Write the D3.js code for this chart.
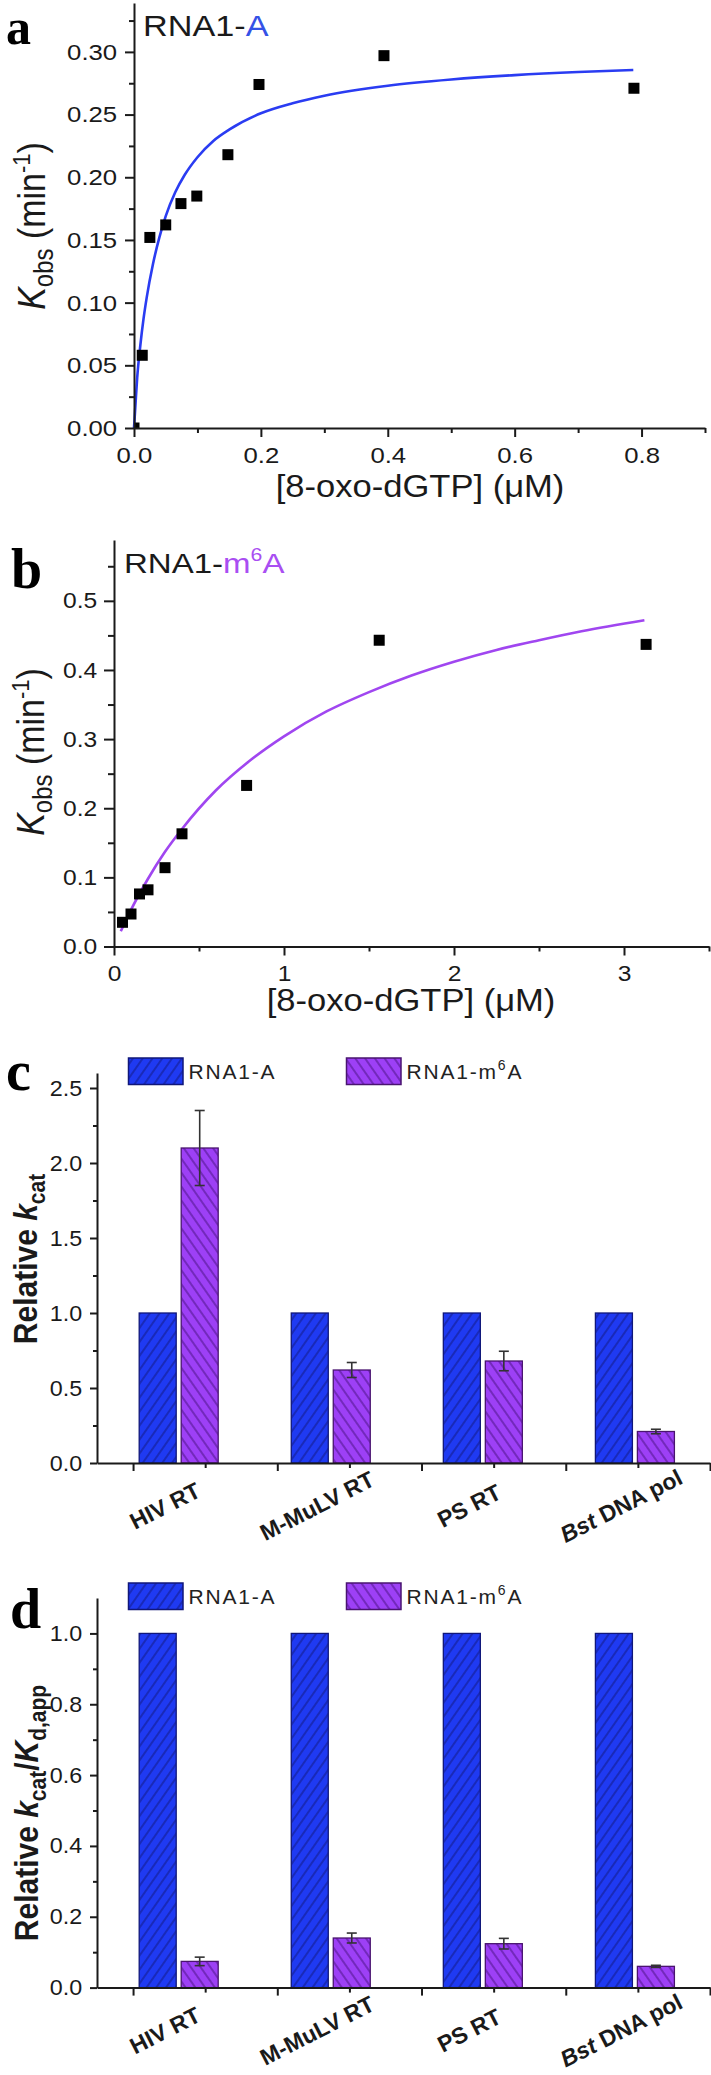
<!DOCTYPE html>
<html>
<head>
<meta charset="utf-8">
<script src="https://cdn.jsdelivr.net/npm/d3@7/dist/d3.min.js"></script>
<style>
html,body{margin:0;padding:0;background:#fff;}
svg{display:block;}
</style>
</head>
<body>
<div id="chart"></div>
<script>
// ---------------- data ----------------
// panel a : RNA1-A
const aConc = [0, 0.013, 0.025, 0.05, 0.074, 0.099, 0.148, 0.197, 0.394, 0.788];
const aKobs = [0, 0.058, 0.152, 0.162, 0.179, 0.185, 0.218, 0.274, 0.297, 0.271];
const aFitConc = [0, 0.002, 0.005, 0.01, 0.015, 0.02, 0.03, 0.04, 0.05, 0.065, 0.08, 0.1, 0.125, 0.15, 0.2, 0.25, 0.3, 0.4, 0.5, 0.6, 0.7, 0.787];
const aFitKobs = [0, 0.016, 0.040, 0.066, 0.087, 0.104, 0.131, 0.152, 0.169, 0.188, 0.202, 0.216, 0.229, 0.238, 0.251, 0.259, 0.265, 0.273, 0.278, 0.2815, 0.284, 0.2856];
const aXTicks = [0, 0.2, 0.4, 0.6, 0.8];
const aXMinor = [0.1, 0.3, 0.5, 0.7, 0.9];
const aYTicks = [0, 0.05, 0.10, 0.15, 0.20, 0.25, 0.30];
const aYMinor = [0.025, 0.075, 0.125, 0.175, 0.225, 0.275, 0.325];

// panel b : RNA1-m6A
const bConc = [0.05, 0.1, 0.15, 0.2, 0.3, 0.4, 0.78, 1.56, 3.13];
const bKobs = [0.035, 0.047, 0.076, 0.082, 0.114, 0.163, 0.233, 0.443, 0.437];
const bFitConc = [0.04, 0.1, 0.2, 0.3, 0.4, 0.6, 0.8, 1.0, 1.25, 1.5, 1.75, 2.0, 2.25, 2.5, 2.75, 3.12];
const bFitKobs = [0.022, 0.053, 0.098, 0.137, 0.170, 0.226, 0.269, 0.304, 0.340, 0.368, 0.392, 0.412, 0.429, 0.443, 0.456, 0.472];
const bXTicks = [0, 1, 2, 3];
const bXMinor = [0.5, 1.5, 2.5, 3.5];
const bYTicks = [0, 0.1, 0.2, 0.3, 0.4, 0.5];
const bYMinor = [0.05, 0.15, 0.25, 0.35, 0.45, 0.55];

// panels c, d
const enzymes = ["HIV RT", "M-MuLV RT", "PS RT", "Bst DNA pol"];
const seriesNames = ["RNA1-A", "RNA1-m6A"];
const kcatA = [1, 1, 1, 1];
const kcatM6A = [2.10, 0.62, 0.68, 0.21];
const kcatM6AErr = [0.25, 0.05, 0.065, 0.015];
const effA = [1, 1, 1, 1];
const effM6A = [0.074, 0.14, 0.124, 0.06];
const effM6AErr = [0.012, 0.014, 0.015, 0.003];
const cYTicks = [0, 0.5, 1.0, 1.5, 2.0, 2.5];
const cYMinor = [0.25, 0.75, 1.25, 1.75, 2.25];
const dYTicks = [0, 0.2, 0.4, 0.6, 0.8, 1.0];
const dYMinor = [0.1, 0.3, 0.5, 0.7, 0.9];

// ---------------- setup ----------------
const W = 711, H = 2075;
const FONT = "'Liberation Sans', Arial, Helvetica, sans-serif";
const SERIF = "'Liberation Serif', 'Times New Roman', serif";
const INK = "#1a1a1a";
const BLUE_LINE = "#2a3cf2";
const BLUE_TXT = "#3552e6";
const PURPLE_LINE = "#a046f0";
const PURPLE_TXT = "#a94ef2";
const BAR_BLUE = "#1f3af2", HATCH_BLUE = "#15209a", EDGE_BLUE = "#10177a";
const BAR_PURPLE = "#9d40f6", HATCH_PURPLE = "#5c1c9c", EDGE_PURPLE = "#4a1470";

const svg = d3.select("#chart").append("svg").attr("width", W).attr("height", H);
svg.append("rect").attr("width", W).attr("height", H).attr("fill", "#fff");
const defs = svg.append("defs");

function hatch(id, bg, line, angle) {
  const p = defs.append("pattern").attr("id", id).attr("patternUnits", "userSpaceOnUse")
    .attr("width", 8).attr("height", 8).attr("patternTransform", `rotate(${angle})`);
  p.append("rect").attr("width", 8).attr("height", 8).attr("fill", bg);
  p.append("line").attr("x1", 4).attr("y1", 0).attr("x2", 4).attr("y2", 8)
    .attr("stroke", line).attr("stroke-width", 1.3);
}
hatch("hatchA", BAR_BLUE, HATCH_BLUE, 35);
hatch("hatchM", BAR_PURPLE, HATCH_PURPLE, -35);
const seriesFill = { "RNA1-A": "url(#hatchA)", "RNA1-m6A": "url(#hatchM)" };
const seriesEdge = { "RNA1-A": EDGE_BLUE, "RNA1-m6A": EDGE_PURPLE };

function styleAxis(sel, fs, sx) {
  sel.attr("font-size", null).attr("font-family", null);
  sel.selectAll("path.domain").attr("stroke", INK).attr("stroke-width", 2);
  sel.selectAll(".tick line").attr("stroke", INK).attr("stroke-width", 2);
  sel.selectAll(".tick text").attr("font-family", FONT).attr("font-size", fs)
    .attr("fill", INK).attr("transform", `scale(${sx},1)`);
}
function yAxis(x0, scale, majors, minors, fmt, tMaj, tMin, pad, fs, sx) {
  const g = svg.append("g").attr("transform", `translate(${x0},0)`);
  const mn = g.append("g").call(d3.axisLeft(scale).tickValues(minors).tickFormat("").tickSize(tMin).tickSizeOuter(0));
  mn.select(".domain").remove();
  styleAxis(mn, fs, sx);
  const mj = g.append("g").call(d3.axisLeft(scale).tickValues(majors).tickFormat(fmt)
    .tickSize(tMaj).tickSizeOuter(0).tickPadding(pad));
  styleAxis(mj, fs, sx);
}
function xAxis(y0, scale, majors, minors, fmt, tMaj, tMin, pad, fs, sx) {
  const g = svg.append("g").attr("transform", `translate(0,${y0})`);
  const mn = g.append("g").call(d3.axisBottom(scale).tickValues(minors).tickFormat("").tickSize(tMin).tickSizeOuter(0));
  mn.select(".domain").remove();
  styleAxis(mn, fs, sx);
  const mj = g.append("g").call(d3.axisBottom(scale).tickValues(majors).tickFormat(fmt)
    .tickSize(tMaj).tickSizeOuter(0).tickPadding(pad));
  styleAxis(mj, fs, sx);
}
function addText(o) {
  const t = svg.append("text")
    .attr("transform", `translate(${o.x},${o.y}) rotate(${o.rot || 0}) scale(${o.sx || 1},${o.sy || 1})`)
    .attr("font-family", o.family || FONT).attr("font-size", o.fs)
    .attr("font-weight", o.weight || "normal")
    .attr("text-anchor", o.anchor || "start").attr("fill", o.fill || INK);
  if (o.spacing) t.attr("letter-spacing", o.spacing);
  (o.parts || [{ t: o.text }]).forEach(p => {
    const s = t.append("tspan").text(p.t);
    if (p.fs) s.attr("font-size", p.fs);
    if (p.dy) s.attr("dy", p.dy);
    if (p.style) s.attr("font-style", p.style);
    if (p.fill) s.attr("fill", p.fill);
    if (p.weight) s.attr("font-weight", p.weight);
  });
  return t;
}
function panelLabel(ch, x, y, fs) {
  addText({ x, y, fs: fs || 56, family: SERIF, weight: "bold", text: ch, fill: "#000" });
}

// ---------------- panel a ----------------
{
  const x = d3.scaleLinear().domain([0, 0.9]).range([134, 705]);
  const y = d3.scaleLinear().domain([0, 0.339]).range([428, 3]);
  defs.append("clipPath").attr("id", "clipA").append("rect")
    .attr("x", 134).attr("y", 3).attr("width", 571).attr("height", 425);
  const line = d3.line().x(d => x(d[0])).y(d => y(d[1])).curve(d3.curveMonotoneX);
  svg.append("path").datum(d3.zip(aFitConc, aFitKobs)).attr("d", line)
    .attr("fill", "none").attr("stroke", BLUE_LINE).attr("stroke-width", 2.6);
  svg.append("g").attr("clip-path", "url(#clipA)").selectAll("rect").data(d3.zip(aConc, aKobs)).join("rect")
    .attr("x", d => x(d[0]) - 5.5).attr("y", d => y(d[1]) - 5.5)
    .attr("width", 11).attr("height", 11).attr("fill", "#000");
  yAxis(134, y, aYTicks, aYMinor, d3.format(".2f"), 9, 5, 6, 23, 1.12);
  xAxis(428, x, aXTicks, aXMinor, d3.format(".1f"), 9, 5, 10, 23, 1.12);
  addText({ x: 143, y: 36, fs: 29, sx: 1.18, parts: [{ t: "RNA1-" }, { t: "A", fill: BLUE_TXT }] });
  addText({ x: 420, y: 497, fs: 32, sx: 1.08, anchor: "middle", text: "[8-oxo-dGTP] (\u03BCM)" });
  addText({ x: 45, y: 226, rot: -90, sy: 1.12, fs: 34, anchor: "middle",
    parts: [{ t: "K", style: "italic" }, { t: "obs", fs: 24, dy: 7 }, { t: " (min", dy: -7 },
            { t: "-1", fs: 22, dy: -13 }, { t: ")", dy: 13 }] });
  panelLabel("a", 6, 44, 50);
}

// ---------------- panel b ----------------
{
  const x = d3.scaleLinear().domain([0, 3.5]).range([114, 709]);
  const y = d3.scaleLinear().domain([0, 0.588]).range([946.5, 540]);
  const line = d3.line().x(d => x(d[0])).y(d => y(d[1])).curve(d3.curveMonotoneX);
  svg.append("path").datum(d3.zip(bFitConc, bFitKobs)).attr("d", line)
    .attr("fill", "none").attr("stroke", PURPLE_LINE).attr("stroke-width", 2.6);
  svg.append("g").selectAll("rect").data(d3.zip(bConc, bKobs)).join("rect")
    .attr("x", d => x(d[0]) - 5.5).attr("y", d => y(d[1]) - 5.5)
    .attr("width", 11).attr("height", 11).attr("fill", "#000");
  yAxis(114, y, bYTicks, bYMinor, d3.format(".1f"), 10, 6, 5, 22, 1.12);
  xAxis(946.5, x, bXTicks, bXMinor, d3.format("d"), 9, 5, 10, 22, 1.12);
  addText({ x: 124, y: 573, fs: 28, sx: 1.18,
    parts: [{ t: "RNA1-" }, { t: "m", fill: PURPLE_TXT }, { t: "6", fs: 18, dy: -12, fill: PURPLE_TXT },
            { t: "A", dy: 12, fill: PURPLE_TXT }] });
  addText({ x: 411, y: 1011, fs: 32, sx: 1.08, anchor: "middle", text: "[8-oxo-dGTP] (\u03BCM)" });
  addText({ x: 44, y: 752, rot: -90, sy: 1.12, fs: 34, anchor: "middle",
    parts: [{ t: "K", style: "italic" }, { t: "obs", fs: 24, dy: 7 }, { t: " (min", dy: -7 },
            { t: "-1", fs: 22, dy: -13 }, { t: ")", dy: 13 }] });
  panelLabel("b", 11, 588);
}

// ---------------- bar panels ----------------
function barPanel(o) {
  const y = d3.scaleLinear().domain([0, o.yMax]).range([o.bottom, o.top]);
  const xg = d3.scalePoint().domain(enzymes).range([178.7, 634.9]);
  const xs = d3.scaleBand().domain(seriesNames).range([-39.5, 39.5]).paddingInner(0.119);
  const xt = d3.scaleLinear().domain([0, 8.5]).range([97, 710]);
  const vals = { "RNA1-A": o.valsA, "RNA1-m6A": o.valsM };
  const bars = [];
  enzymes.forEach((e, i) => seriesNames.forEach(s => bars.push({ e, s, v: vals[s][i] })));
  svg.append("g").selectAll("rect").data(bars).join("rect")
    .attr("x", d => xg(d.e) + xs(d.s)).attr("width", xs.bandwidth())
    .attr("y", d => y(d.v)).attr("height", d => y(0) - y(d.v))
    .attr("fill", d => seriesFill[d.s]).attr("stroke", d => seriesEdge[d.s]).attr("stroke-width", 1.3);
  const eg = svg.append("g").attr("stroke", "#333").attr("stroke-width", 1.6);
  enzymes.forEach((e, i) => {
    const cx = xg(e) + xs("RNA1-m6A") + xs.bandwidth() / 2;
    const v = o.valsM[i], er = o.errM[i];
    eg.append("line").attr("x1", cx).attr("x2", cx).attr("y1", y(v - er)).attr("y2", y(v + er));
    [v - er, v + er].forEach(w => eg.append("line").attr("x1", cx - 5).attr("x2", cx + 5).attr("y1", y(w)).attr("y2", y(w)));
  });
  yAxis(97, y, o.yTicks, o.yMinor, d3.format(".1f"), 7, 4, 7, 22, 1.06);
  xAxis(o.bottom, xt, [0.5, 2.5, 4.5, 6.5, 8.5], [1.5, 3.5, 5.5, 7.5], "", 8, 5, 0, 22, 1);
  enzymes.forEach(e => {
    const parts = e.startsWith("Bst") ? [{ t: "Bst", style: "italic" }, { t: e.slice(3) }] : [{ t: e }];
    addText({ x: xg(e) - 10, y: o.bottom + 50, rot: -27, fs: 23, weight: "bold", anchor: "middle", parts });
  });
  const legX = [128.5, 346.5];
  seriesNames.forEach((s, i) => {
    svg.append("rect").attr("x", legX[i]).attr("y", o.legY).attr("width", 54.5).attr("height", 26.5)
      .attr("fill", seriesFill[s]).attr("stroke", seriesEdge[s]).attr("stroke-width", 1.5);
    const parts = s === "RNA1-m6A"
      ? [{ t: "RNA1-m" }, { t: "6", fs: 14, dy: -9 }, { t: "A", dy: 9 }]
      : [{ t: s }];
    addText({ x: legX[i] + 60, y: o.legY + 21, fs: 21, spacing: 1.8, parts, fill: "#222" });
  });
  addText({ x: o.titleX, y: o.titleY, rot: -90, sy: 1.12, fs: 30, weight: "bold", anchor: "middle", parts: o.titleParts });
  panelLabel(o.label, o.labelX, o.labelY);
}

barPanel({
  top: 1073, bottom: 1463, yMax: 2.6, yTicks: cYTicks, yMinor: cYMinor,
  valsA: kcatA, valsM: kcatM6A, errM: kcatM6AErr, legY: 1058,
  titleX: 37, titleY: 1259,
  titleParts: [{ t: "Relative " }, { t: "k", style: "italic" }, { t: "cat", fs: 21, dy: 7 }],
  label: "c", labelX: 6, labelY: 1090
});
barPanel({
  top: 1598, bottom: 1987.6, yMax: 1.1, yTicks: dYTicks, yMinor: dYMinor,
  valsA: effA, valsM: effM6A, errM: effM6AErr, legY: 1583,
  titleX: 38, titleY: 1813,
  titleParts: [{ t: "Relative " }, { t: "k", style: "italic" }, { t: "cat", fs: 21, dy: 7 },
               { t: "/", dy: -7 }, { t: "K", style: "italic" }, { t: "d,app", fs: 21, dy: 7 }],
  label: "d", labelX: 10, labelY: 1628
});
</script>
</body>
</html>
